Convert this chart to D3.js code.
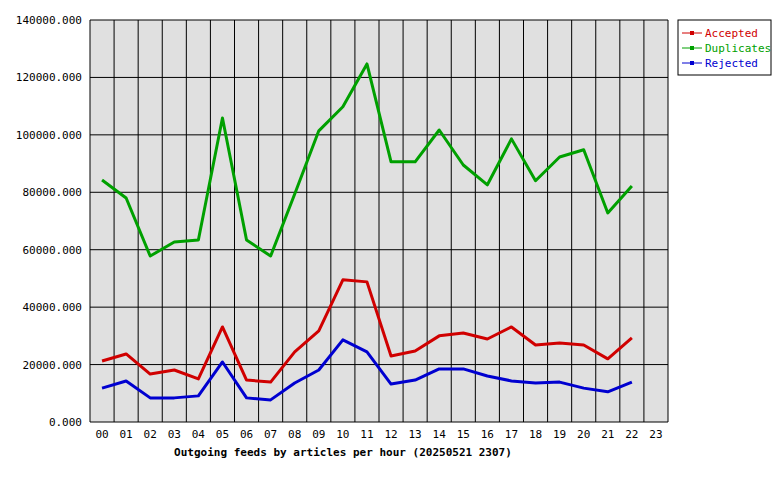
<!DOCTYPE html>
<html><head><script src="https://cdn.jsdelivr.net/npm/d3@7"></script>
<style>body{margin:0;background:#fff}</style></head><body>
<svg id="c" width="780" height="480"></svg>
<script>
const hours = ["00","01","02","03","04","05","06","07","08","09","10","11","12","13","14","15","16","17","18","19","20","21","22","23"];
const yTicks = [0,20000,40000,60000,80000,100000,120000,140000];
const accepted = [21250,23700,16700,18100,15000,33100,14600,13900,24400,31700,49500,48800,23000,24700,30000,31000,28900,33100,26800,27500,26800,22000,29300];
const duplicates = [84300,78000,57800,62700,63400,105900,63400,57800,79400,101400,109800,124700,90600,90600,101700,89500,82600,98600,84000,92300,94800,72800,82200];
const rejected = [11800,14300,8400,8400,9100,20900,8400,7700,13600,18100,28600,24400,13200,14600,18500,18500,16000,14300,13600,13900,11800,10500,13900];
const seriesNames = ["Accepted","Duplicates","Rejected"];
const colors = ["#d00000","#00a000","#0000d0"];
const svg = d3.select("#c");
const x = d3.scaleBand().domain(hours).range([90,668]).padding(0);
const y = d3.scaleLinear().domain([0,140000]).range([422,20]);
const font = "DejaVu Sans Mono, monospace";
svg.append("rect").attr("x",90).attr("y",20).attr("width",578).attr("height",402).attr("fill","#e0e0e0");
svg.selectAll(".h").data(yTicks).enter().append("line").attr("x1",90).attr("x2",668)
 .attr("y1",d=>y(d)).attr("y2",d=>y(d)).attr("stroke","#000");
svg.selectAll(".v").data(hours.concat(["end"])).enter().append("line")
 .attr("x1",(d,i)=>90+i*x.bandwidth()).attr("x2",(d,i)=>90+i*x.bandwidth())
 .attr("y1",20).attr("y2",422).attr("stroke","#000");
svg.selectAll(".yl").data(yTicks).enter().append("text").attr("x",82).attr("y",d=>y(d)+4)
 .attr("text-anchor","end").attr("font-family",font).attr("font-size",11).text(d=>d+".000");
svg.selectAll(".xl").data(hours).enter().append("text").attr("x",d=>x(d)+x.bandwidth()/2).attr("y",438)
 .attr("text-anchor","middle").attr("font-family",font).attr("font-size",11).text(d=>d);
svg.append("text").attr("x",343).attr("y",456).attr("text-anchor","middle").attr("font-family",font)
 .attr("font-size",11).attr("font-weight","bold").text("Outgoing feeds by articles per hour (20250521 2307)");
const line = d3.line().x((d,i)=>x(hours[i])+x.bandwidth()/2).y(d=>y(d));
[accepted,duplicates,rejected].forEach((s,k)=>{
 svg.append("path").attr("d",line(s)).attr("fill","none").attr("stroke",colors[k]).attr("stroke-width",3).attr("stroke-linejoin","round");
});
svg.append("rect").attr("x",678).attr("y",20).attr("width",93).attr("height",55).attr("fill","#fff").attr("stroke","#000");
seriesNames.forEach((n,k)=>{
 const yy=33+k*15;
 svg.append("line").attr("x1",682).attr("x2",702).attr("y1",yy).attr("y2",yy).attr("stroke",colors[k]);
 svg.append("rect").attr("x",690).attr("y",yy-2).attr("width",4).attr("height",4).attr("fill",colors[k]);
 svg.append("text").attr("x",705).attr("y",yy+4).attr("font-family",font).attr("font-size",11).attr("fill",colors[k]).text(n);
});
</script></body></html>
